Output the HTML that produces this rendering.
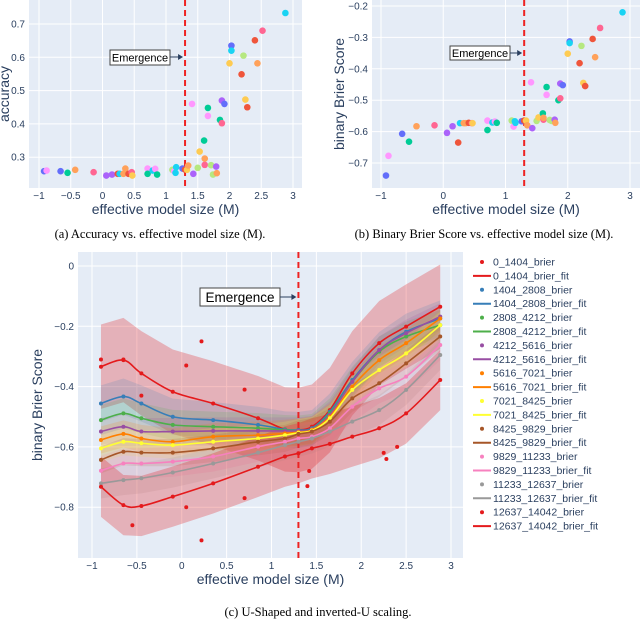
<!DOCTYPE html>
<html><head><meta charset="utf-8"><style>
body{margin:0;background:#fff;width:640px;height:621px;overflow:hidden}
svg text{font-family:"Liberation Sans",sans-serif}
.cap{font-family:"Liberation Serif",serif;font-size:12.5px;fill:#000}
</style></head><body>
<svg id="s" width="640" height="621" xmlns="http://www.w3.org/2000/svg"></svg>
<script>
const NS='http://www.w3.org/2000/svg';
// ---- panel a/b data ----
const abX=[-0.92,-0.88,-0.66,-0.55,-0.43,-0.14,0.06,0.15,0.24,0.27,0.33,0.36,0.41,0.46,0.47,0.71,0.71,0.79,0.83,0.86,1.1,1.13,1.15,1.16,1.26,1.3,1.33,1.35,1.41,1.43,1.5,1.53,1.6,1.61,1.61,1.66,1.66,1.71,1.74,1.79,1.8,1.85,1.88,1.88,1.92,2.0,2.03,2.03,2.19,2.22,2.25,2.28,2.4,2.44,2.52,2.88];
const accY=[0.258,0.26,0.258,0.253,0.262,0.255,0.245,0.248,0.25,0.25,0.25,0.266,0.25,0.255,0.245,0.266,0.25,0.26,0.265,0.248,0.262,0.258,0.253,0.27,0.266,0.263,0.262,0.275,0.46,0.25,0.268,0.317,0.35,0.277,0.296,0.448,0.424,0.276,0.248,0.272,0.252,0.412,0.402,0.47,0.46,0.582,0.635,0.62,0.549,0.605,0.473,0.45,0.651,0.582,0.68,0.733];
const brY=[-0.74,-0.677,-0.607,-0.632,-0.583,-0.58,-0.604,-0.583,-0.635,-0.573,-0.573,-0.573,-0.572,-0.573,-0.573,-0.565,-0.595,-0.571,-0.568,-0.572,-0.565,-0.584,-0.567,-0.572,-0.567,-0.565,-0.565,-0.58,-0.443,-0.589,-0.566,-0.555,-0.542,-0.562,-0.556,-0.458,-0.483,-0.563,-0.566,-0.562,-0.572,-0.5,-0.494,-0.447,-0.452,-0.352,-0.313,-0.318,-0.382,-0.327,-0.445,-0.455,-0.305,-0.363,-0.27,-0.22];
const abC=['#636efa','#FF97FF','#636efa','#00cc96','#FFA15A','#FF6692','#ab63fa','#ab63fa','#EF553B','#19d3f3','#FFA15A','#FFA15A','#EF553B','#FF6692','#FECB52','#FF97FF','#00cc96','#19d3f3','#FF97FF','#00cc96','#B6E880','#FF97FF','#19d3f3','#19d3f3','#636efa','#EF553B','#FECB52','#FFA15A','#FF97FF','#ab63fa','#B6E880','#FECB52','#00cc96','#FF6692','#FFA15A','#00cc96','#FF97FF','#B6E880','#B6E880','#ab63fa','#FFA15A','#00cc96','#FF6692','#ab63fa','#636efa','#FECB52','#636efa','#19d3f3','#EF553B','#B6E880','#FECB52','#EF553B','#EF553B','#FFA15A','#FF6692','#19d3f3'];
// ---- panel c data ----
const fitX=[-0.9,-0.65,-0.45,-0.1,0.35,0.85,1.15,1.3,1.45,1.65,1.9,2.2,2.5,2.88];
const seriesNames=['0_1404','1404_2808','2808_4212','4212_5616','5616_7021','7021_8425','8425_9829','9829_11233','11233_12637','12637_14042'];
const seriesColors=['#e41a1c','#377eb8','#4daf4a','#984ea3','#ff7f00','#ffff33','#a65628','#f781bf','#999999','#e41a1c'];
const s0=[-0.334,-0.312,-0.356,-0.417,-0.456,-0.505,-0.542,-0.544,-0.533,-0.478,-0.356,-0.256,-0.201,-0.135];
const s1=[-0.456,-0.433,-0.456,-0.5,-0.511,-0.527,-0.542,-0.544,-0.538,-0.483,-0.378,-0.279,-0.218,-0.174];
const s2=[-0.511,-0.489,-0.505,-0.527,-0.533,-0.538,-0.544,-0.546,-0.541,-0.489,-0.384,-0.284,-0.234,-0.196];
const s3=[-0.549,-0.533,-0.549,-0.549,-0.547,-0.547,-0.547,-0.547,-0.542,-0.494,-0.384,-0.279,-0.223,-0.168];
const s4=[-0.577,-0.557,-0.572,-0.583,-0.566,-0.561,-0.555,-0.551,-0.544,-0.5,-0.4,-0.312,-0.256,-0.174];
const s5=[-0.605,-0.583,-0.588,-0.594,-0.583,-0.572,-0.561,-0.553,-0.546,-0.505,-0.411,-0.345,-0.29,-0.196];
const s6=[-0.643,-0.616,-0.619,-0.619,-0.605,-0.583,-0.572,-0.557,-0.549,-0.516,-0.439,-0.389,-0.323,-0.234];
const s7=[-0.679,-0.655,-0.655,-0.649,-0.632,-0.599,-0.583,-0.572,-0.566,-0.538,-0.467,-0.406,-0.367,-0.262];
const s8=[-0.721,-0.71,-0.704,-0.685,-0.655,-0.619,-0.594,-0.583,-0.572,-0.549,-0.516,-0.478,-0.411,-0.295];
const s9=[-0.732,-0.793,-0.796,-0.765,-0.721,-0.666,-0.632,-0.621,-0.605,-0.59,-0.566,-0.538,-0.489,-0.378];
const bandHalf=[0.14,0.06,0.05,0.045,0.045,0.045,0.045,0.05,0.05,0.1];
const redOutX=[-0.9,-0.65,-0.55,-0.45,0.05,0.05,0.22,0.22,0.7,0.7,1.4,1.42,2.25,2.28,2.4];
const redOutY=[-0.31,-0.31,-0.86,-0.43,-0.33,-0.8,-0.25,-0.91,-0.41,-0.77,-0.73,-0.68,-0.62,-0.64,-0.6];
const allS=[s0,s1,s2,s3,s4,s5,s6,s7,s8,s9];

const svg=document.getElementById('s');
function el(tag,attrs,parent){const e=document.createElementNS(NS,tag);for(const k in attrs)e.setAttribute(k,attrs[k]);(parent||svg).appendChild(e);return e;}
function txt(x,y,s,attrs,parent){const t=el('text',Object.assign({x:x,y:y},attrs),parent);t.textContent=s;return t;}
function spline(pts){let d='M'+pts[0][0]+','+pts[0][1];for(let i=0;i<pts.length-1;i++){const p0=pts[i-1]||pts[i],p1=pts[i],p2=pts[i+1],p3=pts[i+2]||p2;const c1x=p1[0]+(p2[0]-p0[0])/6,c1y=p1[1]+(p2[1]-p0[1])/6,c2x=p2[0]-(p3[0]-p1[0])/6,c2y=p2[1]-(p3[1]-p1[1])/6;d+=' C'+c1x+','+c1y+' '+c2x+','+c2y+' '+p2[0]+','+p2[1];}return d;}

function panel(name,L,T,R,B,sx,sy,xt,yt,ytFmt,ytitle,ytx){
  const g=el('g',{});
  
  
  const bg=el('rect',{x:L,y:T,width:R-L,height:B-T,fill:'#e5ecf6'},g);
  
  
  xt.forEach(v=>{el('line',{x1:sx(v),x2:sx(v),y1:T,y2:B,stroke:'#fff','stroke-width':1},g);
    const t=txt(sx(v),B+11,v<0?'\u2212'+(-v):String(v),{'font-size':10,fill:'#2a3f5f','text-anchor':'middle'},g);
    });
  yt.forEach(v=>{el('line',{x1:L,x2:R,y1:sy(v),y2:sy(v),stroke:'#fff','stroke-width':1},g);
    const t=txt(L-4,sy(v)+3.5,ytFmt(v),{'font-size':10,fill:'#2a3f5f','text-anchor':'end'},g);
    });
  const xtl=txt((L+R)/2,B+26,'effective model size (M)',{'font-size':14,fill:'#2a3f5f','text-anchor':'middle'},g);
  
  const cy=(T+B)/2;
  const ytl=txt(ytx,cy,ytitle,{'font-size':14,fill:'#2a3f5f','text-anchor':'middle',transform:'rotate(-90 '+ytx+' '+cy+')'},g);
  
  return g;
}
function emergence(g,x,T,B,bx,by,bw,bh,ay,fs){
  const l=el('line',{x1:x,x2:x,y1:T,y2:B,stroke:'#ee2222','stroke-width':2,'stroke-dasharray':'6,4'},g);
  
  const r=el('rect',{x:bx,y:by,width:bw,height:bh,fill:'#fff',stroke:'#444','stroke-width':1},g);
  
  txt(bx+bw/2,by+bh/2+fs*0.36,'Emergence',{'font-size':fs,fill:'#000','text-anchor':'middle'},g);
  el('line',{x1:bx+bw,x2:x-4,y1:ay,y2:ay,stroke:'#2a3f5f','stroke-width':1},g);
  el('path',{d:'M'+(x-2)+','+ay+' l-5,-3 l0,6z',fill:'#2a3f5f'},g);
}
function fmt1(v){return v<0?'\u2212'+(-v).toFixed(1):v.toFixed(1);}
function fmtc(v){return v===0?'0':'\u2212'+(-v).toFixed(1);}

// panel a
{const L=29,T=0,R=302,B=188;const sx=v=>39+(v+1)*63.5,sy=v=>24+(0.7-v)*333;
 const g=panel('accuracy-chart',L,T,R,B,sx,sy,[-1,-0.5,0,0.5,1,1.5,2,2.5,3],[0.3,0.4,0.5,0.6,0.7],fmt1,'accuracy',9);
 emergence(g,sx(1.3),T,B,110,50,60,15,57,11);
 abX.forEach((x,i)=>{const c=el('circle',{cx:sx(x),cy:sy(accY[i]),r:3.3,fill:abC[i]},g);
  });
 const cap=txt(160,238,'(a) Accuracy vs. effective model size (M).',{class:'cap','text-anchor':'middle'});
 }
// panel b
{const L=372,T=0,R=640,B=188;const sx=v=>381+(v+1)*62.25,sy=v=>6+(-0.2-v)*314;
 const g=panel('brier-chart',L,T,R,B,sx,sy,[-1,0,1,2,3],[-0.2,-0.3,-0.4,-0.5,-0.6,-0.7],fmt1,'binary Brier Score',344);
 emergence(g,sx(1.3),T,B,450,46,60,14,53,11);
 abX.forEach((x,i)=>{const c=el('circle',{cx:sx(x),cy:sy(brY[i]),r:3.3,fill:abC[i]},g);
  });
 const cap=txt(484,238,'(b) Binary Brier Score vs. effective model size (M).',{class:'cap','text-anchor':'middle'});
 }
// panel c
{const L=78,T=252,R=463,B=558;const sx=v=>92+(v+1)*89.75,sy=v=>266-v*301.5;
 const g=panel('u-shaped-chart',L,T,R,B,sx,sy,[-1,-0.5,0,0.5,1,1.5,2,2.5,3],[0,-0.2,-0.4,-0.6,-0.8],fmtc,'binary Brier Score',42);
 allS.forEach((s,k)=>{const up=fitX.map((x,i)=>[sx(x),sy(s[i]+bandHalf[k])]);const lo=fitX.map((x,i)=>[sx(x),sy(s[i]-bandHalf[k])]).reverse();
  const p=el('path',{d:'M'+up.map(p=>p.join(',')).join(' L')+' L'+lo.map(p=>p.join(',')).join(' L')+'Z',fill:seriesColors[k],'fill-opacity':k===0||k===9?0.28:0.17,stroke:'none'},g);
  });
 emergence(g,sx(1.3),T,B,200,288,80,18,297,13.5);
 allS.forEach((s,k)=>{const pts=fitX.map((x,i)=>[sx(x),sy(s[i])]);
  const p=el('path',{d:spline(pts),fill:'none',stroke:seriesColors[k],'stroke-width':1.6},g);
  
  pts.forEach(q=>{const c=el('circle',{cx:q[0],cy:q[1],r:2,fill:seriesColors[k]},g);
   });});
 redOutX.forEach((x,i)=>{const c=el('circle',{cx:sx(x),cy:sy(redOutY[i]),r:2,fill:'#e41a1c'},g);
  });
 const lg=el('g',{},svg);
 
 seriesNames.forEach((n,k)=>{const y1=262+k*2*13.9,y2=y1+13.9;
  const e1=el('g',{},lg);
  el('circle',{cx:482,cy:y1,r:2,fill:seriesColors[k]},e1);
  txt(493,y1+3.5,n+'_brier',{'font-size':10.5,fill:'#2a3f5f'},e1);
  const e2=el('g',{},lg);
  el('line',{x1:473,x2:491,y1:y2,y2:y2,stroke:seriesColors[k],'stroke-width':2},e2);
  txt(493,y2+3.5,n+'_brier_fit',{'font-size':10.5,fill:'#2a3f5f'},e2);});
 const cap=txt(318,616,'(c) U-Shaped and inverted-U scaling.',{class:'cap','text-anchor':'middle'});
 }
</script>
</body></html>
